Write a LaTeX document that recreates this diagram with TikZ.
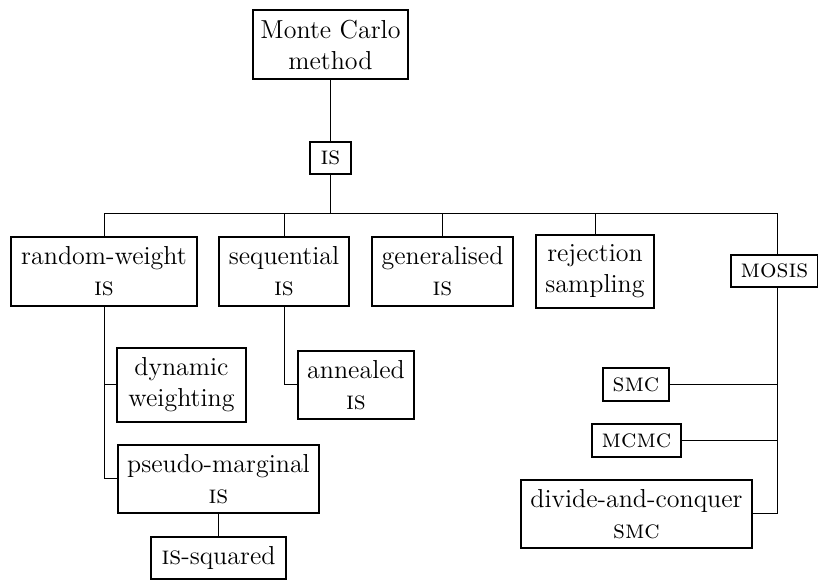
\documentclass[tikz,border=0pt]{standalone}
\begin{document}
\begin{tikzpicture}[x=0.5pt,y=-0.5pt,
  bx/.style n args={2}{draw,rectangle,line width=1.1pt,inner sep=0pt,align=center,
    minimum width={0.5pt*#1},minimum height={0.5pt*#2},
    font=\fontsize{13}{15.5}\selectfont},
  conn/.style={line width=0.5pt}]
\path[use as bounding box] (0,0) rectangle (818,581);
\node[bx={155}{69}] (mc) at (330.5,44.5) {Monte Carlo\\method};
\node[bx={41}{32}] (is) at (330.5,158) {\textsc{is}};
\node[bx={186}{69}] (rw) at (104,271.5) {random-weight\\\textsc{is}};
\node[bx={130}{69}] (seq) at (284,271.5) {sequential\\\textsc{is}};
\node[bx={141}{69}] (gen) at (442.5,271.5) {generalised\\\textsc{is}};
\node[bx={118}{73}] (rej) at (595,271.5) {rejection\\sampling};
\node[bx={87}{32}] (mosis) at (774.5,271) {\textsc{mosis}};
\node[bx={129}{74}] (dyn) at (181.5,385) {dynamic\\weighting};
\node[bx={116}{68}] (ann) at (356,385) {annealed\\\textsc{is}};
\node[bx={201}{68}] (pm) at (218.5,479) {pseudo-marginal\\\textsc{is}};
\node[bx={135}{42}] (sq) at (218.5,558) {\textsc{is}-squared};
\node[bx={66}{33}] (smc) at (636,384.5) {\textsc{smc}};
\node[bx={89}{33}] (mcmc) at (636.5,440.5) {\textsc{mcmc}};
\node[bx={231}{68}] (dc) at (636.5,514) {divide-and-conquer\\\textsc{smc}};
\coordinate (mx) at (777,214);
\draw[conn] (mc.south) -- (is.north);
\draw[conn] (is.south) -- (is.south |- mx);
\draw[conn] (rw.north) |- (mx) -- (mx |- mosis.north);
\draw[conn] (seq.north) -- (seq.north |- mx);
\draw[conn] (gen.north) -- (gen.north |- mx);
\draw[conn] (rej.north) -- (rej.north |- mx);
\draw[conn] (mx |- mosis.south) |- (dc.east);
\draw[conn] (smc.east) -- (smc.east -| mx);
\draw[conn] (mcmc.east) -- (mcmc.east -| mx);
\draw[conn] (rw.south) |- (pm.west);
\draw[conn] (rw.south |- dyn.west) -- (dyn.west);
\draw[conn] (seq.south) |- (ann.west);
\draw[conn] (pm.south) -- (sq.north);
\end{tikzpicture}
\end{document}
